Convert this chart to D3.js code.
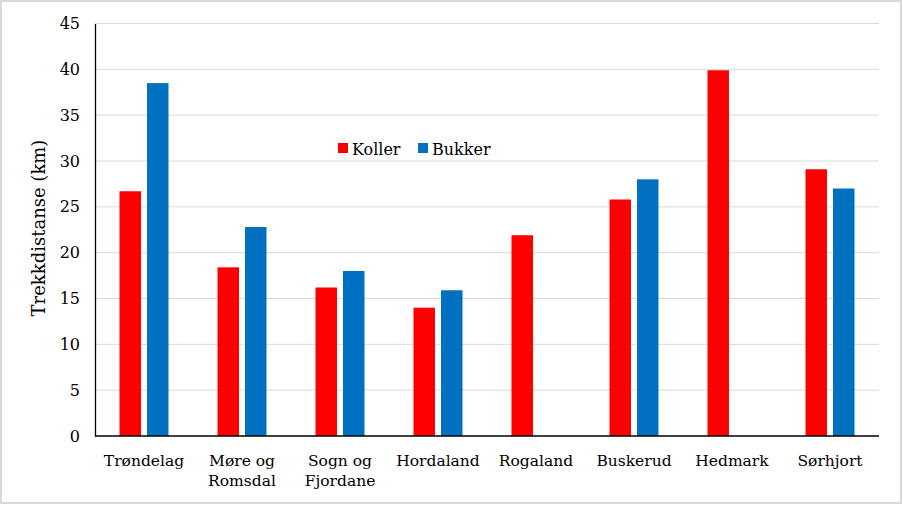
<!DOCTYPE html>
<html><head><meta charset="utf-8">
<script src="https://cdn.jsdelivr.net/npm/d3@7"></script>
<style>body{margin:0;background:#fff}svg{display:block}</style>
</head><body>
<svg id="c" width="903" height="505"></svg>
<script>
const categories = [["Trøndelag"],["Møre og","Romsdal"],["Sogn og","Fjordane"],["Hordaland"],["Rogaland"],["Buskerud"],["Hedmark"],["Sørhjort"]];
const koller = [26.7, 18.4, 16.2, 14.0, 21.9, 25.8, 39.9, 29.1];
const bukker = [38.5, 22.8, 18.0, 15.9, null, 28.0, null, 27.0];
const yTicks = [0,5,10,15,20,25,30,35,40,45];
const seriesNames = ["Koller","Bukker"];
const colors = ["#ff0000","#0070c0"];

const font = "DejaVu Serif";
const svg = d3.select("#c");
svg.append("rect").attr("x",1).attr("y",1).attr("width",900).attr("height",502)
  .attr("fill","#fff").attr("stroke","#d9d9d9").attr("stroke-width",2);

const L=95, R=879, T=23.5, B=436;
const keys = categories.map((d,i)=>i);
const x = d3.scaleBand().domain(keys).range([L,R]).paddingInner(0).paddingOuter(0);
const y = d3.scaleLinear().domain([0,45]).range([B,T]);
const barW = 21.5, gap = 6;

// grid
svg.append("g").selectAll("line").data(yTicks.filter(t=>t>0)).join("line")
  .attr("x1",L).attr("x2",R).attr("y1",d=>y(d)).attr("y2",d=>y(d))
  .attr("stroke","#d9d9d9").attr("stroke-width",1);

// bars
const data = [koller, bukker];
data.forEach((vals,s)=>{
  svg.append("g").selectAll("rect").data(vals.map((v,i)=>({v,i})).filter(d=>d.v!=null)).join("rect")
    .attr("x",d=>x(d.i)+x.bandwidth()/2 + (s===0 ? -gap/2-barW : gap/2))
    .attr("width",barW)
    .attr("y",d=>y(d.v)).attr("height",d=>B-y(d.v))
    .attr("fill",colors[s]);
});

// axes
const ya = d3.axisLeft(y).tickValues(yTicks).tickSize(0).tickPadding(15);
const gy = svg.append("g").attr("transform",`translate(${L},0)`).call(ya);
gy.select(".domain").attr("stroke","#000").attr("stroke-width",1.3);
gy.selectAll("text").attr("font-family",font).attr("font-size",16).attr("fill","#000");

svg.append("line").attr("x1",L).attr("x2",R).attr("y1",B).attr("y2",B).attr("stroke","#000").attr("stroke-width",1.5);

// x labels
const xl = svg.append("g");
categories.forEach((lines,i)=>{
  const t = xl.append("text").attr("x",x(i)+x.bandwidth()/2).attr("y",466)
    .attr("text-anchor","middle").attr("font-family",font).attr("font-size",15.5).attr("fill","#000");
  lines.forEach((ln,j)=>t.append("tspan").attr("x",x(i)+x.bandwidth()/2).attr("dy",j===0?0:20).text(ln));
});

// y title
svg.append("text").attr("transform","translate(45,228) rotate(-90)")
  .attr("text-anchor","middle").attr("font-family",font).attr("font-size",18).attr("fill","#000")
  .text("Trekkdistanse (km)");

// legend
const lg = svg.append("g");
const legX = [338, 418];
seriesNames.forEach((n,i)=>{
  lg.append("rect").attr("x",legX[i]).attr("y",143).attr("width",10).attr("height",10).attr("fill",colors[i]);
  lg.append("text").attr("x",legX[i]+14).attr("y",154.5).attr("font-family",font).attr("font-size",16).attr("fill","#000").text(n);
});
</script>
</body></html>
